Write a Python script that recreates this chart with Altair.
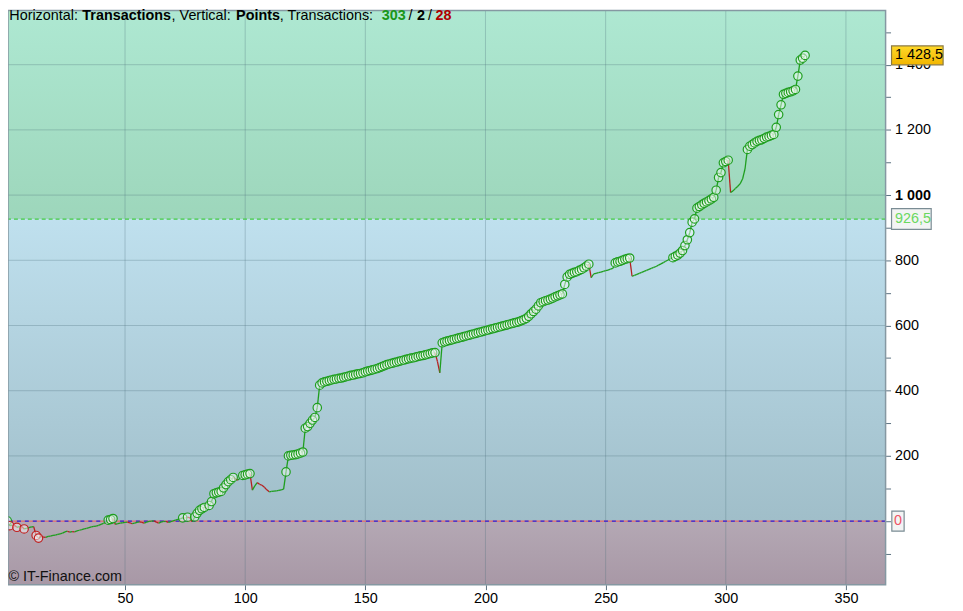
import altair as alt
import pandas as pd

# ---- data ----
equity = [
    1, -14, -12, -13, -19, -17, -16, -24, -22, -20,
    -18, -17, -44, -52, -47, -49, -50, -47, -46, -44,
    -43, -41, -39, -37, -33, -31, -34, -32, -33, -30,
    -28, -26, -24, -22, -20, -18, -16, -15, -13, -10,
    -7, -4, 3, 5, 8, -10, -8, -6, -5, -4,
    -3, -5, -8, -6, -4, -2, -4, -6, -3, -1,
    0, 1, -3, -6, -3, -1, -1, -4, -2, 1,
    3, 5, 7, 10, 9, 12, 10, -2, 13, 24,
    33, 38, 42, 41, 48, 60, 84, 87, 89, 91,
    102, 112, 121, 127, 134, 129, 126, 132, 140, 142,
    144, 146, 95, 108, 118, 113, 110, 104, 96, 90,
    91, 92, 93, 94, 96, 98, 151, 200, 202, 203,
    204, 206, 209, 212, 285, 290, 300, 310, 318, 348,
    417, 424, 427, 429, 431, 433, 435, 436, 438, 439,
    441, 443, 445, 447, 448, 450, 452, 453, 455, 458,
    460, 462, 464, 466, 468, 471, 474, 477, 480, 482,
    484, 486, 488, 490, 492, 494, 496, 498, 500, 501,
    503, 505, 507, 508, 510, 512, 514, 516, 517, 490,
    455, 547, 550, 552, 554, 556, 558, 560, 562, 564,
    566, 568, 570, 572, 574, 576, 578, 580, 582, 584,
    586, 588, 590, 592, 594, 596, 598, 600, 602, 604,
    606, 608, 610, 612, 615, 618, 622, 628, 636, 643,
    650, 660, 670, 673, 676, 678, 681, 684, 688, 691,
    694, 697, 726, 749, 757, 760, 763, 765, 769, 772,
    777, 782, 788, 747, 758, 760, 762, 764, 766, 768,
    770, 773, 775, 792, 795, 797, 800, 803, 805, 807,
    751, 754, 757, 760, 763, 766, 769, 772, 775, 778,
    781, 785, 789, 793, 797, 801, 805, 808, 812, 816,
    822, 830, 845, 863, 885, 917, 927, 960, 965, 970,
    975, 979, 983, 988, 993, 1015, 1054, 1069, 1099, 1103,
    1107, 1008, 1013, 1020, 1027, 1035, 1050, 1080, 1140, 1150,
    1155, 1160, 1165, 1168, 1170, 1174, 1178, 1180, 1183, 1186,
    1208, 1247, 1277, 1309, 1312, 1315, 1317, 1320, 1324, 1365,
    1414, 1420, 1428.5,
]
x_ticks = [50, 100, 150, 200, 250, 300, 350]
y_ticks = [-100, 0, 100, 200, 300, 400, 500, 600, 700, 800, 900,
           1000, 1100, 1200, 1300, 1400, 1500]
y_grid = [200, 400, 600, 800, 1000, 1200, 1400]
level_last = 1428.5
level_ref = 926.5
level_zero = 0
last_label = "1 428,5"
ref_label = "926,5"
zero_label = "0"

# ---- layout ----
W, H = 885, 579
XD = [1.3, 366.5]
YD = [-195, 1566]
U = (YD[1] - YD[0]) / H  # data units per pixel (vertical)
FONT = "Liberation Sans"
FS = 14.5

xs = alt.Scale(domain=XD, nice=False, zero=False)
ys = alt.Scale(domain=YD, nice=False, zero=False)

AX = alt.Axis(
    values=x_ticks, orient="bottom", title=None, grid=False, domain=False,
    tickSize=5, tickColor="#5a7080", labelFontSize=FS, labelFont=FONT,
    labelColor="#000", labelPadding=2, format="d")
AY = alt.Axis(
    values=y_ticks, orient="right", title=None, grid=False, domain=False,
    tickSize=5, tickColor="#5a7080", labelFontSize=FS, labelFont=FONT,
    labelColor="#000", labelPadding=4,
    labelExpr="(datum.value > 0 && datum.value % 200 == 0) ? replace(format(datum.value, ','), ',', ' ') : ''",
    labelFontWeight={"condition": {"test": "datum.value == 1000", "value": "bold"}, "value": "normal"})

df = pd.DataFrame({"n": list(range(1, len(equity) + 1)), "eq": equity})
seg = df.copy()
seg["n2"] = seg["n"].shift(-1)
seg["eq2"] = seg["eq"].shift(-1)
seg = seg.dropna()
seg["dir"] = ["up" if b >= a else "down" for a, b in zip(seg["eq"], seg["eq2"])]

prev_max = df["eq"].cummax().shift(1)
prev_min = df["eq"].cummin().shift(1)
kind = []
for k, v in enumerate(df["eq"]):
    if k == 0 or v > prev_max[k]:
        kind.append("high")
    elif v < prev_min[k] and v < 0:
        kind.append("low")
    else:
        kind.append("none")
df["kind"] = kind
marks = df[df["kind"] != "none"]

def grad(top, bottom):
    return alt.Gradient(gradient="linear",
                        stops=[alt.GradientStop(color=top, offset=0),
                               alt.GradientStop(color=bottom, offset=1)],
                        x1=0, x2=0, y1=0, y2=1)

def band(lo, hi, top, bottom):
    return alt.Chart(pd.DataFrame({"lo": [lo], "hi": [hi]})).mark_rect(
        fill=grad(top, bottom), strokeWidth=0).encode(
        x=alt.value(0), x2=alt.value(W),
        y=alt.Y("lo:Q", scale=ys, axis=AY), y2="hi:Q")

bands = [
    band(YD[0], level_zero, "#b4a8b4", "#a898a6"),
    band(level_zero, level_ref, "#bfe0ee", "#a0bec9"),
    band(level_ref, YD[1], "#aee8d2", "#9dd6bb"),
]

vgrid = alt.Chart(pd.DataFrame({"v": x_ticks})).mark_rule(
    color="#4a6a7a", opacity=0.3, strokeWidth=1).encode(
    x=alt.X("v:Q", scale=xs, axis=AX))
hgrid = alt.Chart(pd.DataFrame({"v": y_grid})).mark_rule(
    color="#4a6a7a", opacity=0.3, strokeWidth=1).encode(
    y=alt.Y("v:Q", scale=ys, axis=AY))

ref_line = alt.Chart(pd.DataFrame({"v": [level_ref]})).mark_rule(
    color="#44cc44", strokeDash=[4, 3], strokeWidth=1.2).encode(
    y=alt.Y("v:Q", scale=ys, axis=AY))
zero_red = alt.Chart(pd.DataFrame({"v": [level_zero]})).mark_rule(
    color="#e86a6a", strokeWidth=1.5).encode(
    y=alt.Y("v:Q", scale=ys, axis=AY))
zero_blue = alt.Chart(pd.DataFrame({"v": [level_zero]})).mark_rule(
    color="#2222e0", strokeDash=[4, 4], strokeWidth=1.5).encode(
    y=alt.Y("v:Q", scale=ys, axis=AY))

lines = alt.Chart(seg).mark_rule(strokeWidth=1.3).encode(
    x=alt.X("n:Q", scale=xs, axis=AX),
    x2="n2:Q",
    y=alt.Y("eq:Q", scale=ys, axis=AY),
    y2="eq2:Q",
    color=alt.Color("dir:N", scale=alt.Scale(domain=["up", "down"], range=["#1e9e1e", "#b52020"]), legend=None),
)

points = alt.Chart(marks).mark_point(
    shape="circle", size=72, filled=True, fill="#ffffff", fillOpacity=0.45, strokeWidth=1.2).encode(
    x=alt.X("n:Q", scale=xs, axis=AX),
    y=alt.Y("eq:Q", scale=ys, axis=AY),
    stroke=alt.Stroke("kind:N", scale=alt.Scale(domain=["high", "low"], range=["#1e9e1e", "#c02020"]), legend=None),
)

def box(level, half_px, x0, x1, fill, stroke):
    return alt.Chart(pd.DataFrame({"lo": [level - half_px * U], "hi": [level + half_px * U]})).mark_rect(
        fill=fill, stroke=stroke, strokeWidth=1.2).encode(
        x=alt.value(x0), x2=alt.value(x1),
        y=alt.Y("lo:Q", scale=ys, axis=AY), y2="hi:Q")

def boxtext(level, label, x, color, align="left"):
    return alt.Chart(pd.DataFrame({"v": [level], "t": [label]})).mark_text(
        font=FONT, fontSize=FS, color=color, align=align, baseline="middle").encode(
        x=alt.value(x), y=alt.Y("v:Q", scale=ys, axis=AY), text="t:N")

annot = [
    box(level_last, 9.5, 891, 943, grad("#ffd829", "#f2b600"), "#8c7a40"),
    boxtext(level_last, last_label, 894.5, "#000"),
    box(level_ref, 10.5, 891, 931, "#f3f4f4", "#7a8c94"),
    boxtext(level_ref, ref_label, 894.5, "#6ad860"),
    box(level_zero, 10, 891.3, 903.7, "#f3f4f4", "#7a8c94"),
    boxtext(level_zero, zero_label, 897.5, "#ee5566", align="center"),
]

pieces = [
    ("Horizontal:", 1.3, "normal", "#000"),
    ("Transactions", 75, "bold", "#000"),
    (", Vertical:", 165, "normal", "#000"),
    ("Points", 230, "bold", "#000"),
    (", Transactions:", 274, "normal", "#000"),
    ("303", 377, "bold", "#1a961a"),
    ("/", 404, "normal", "#000"),
    ("2", 412.5, "bold", "#000"),
    ("/", 423.5, "normal", "#000"),
    ("28", 431, "bold", "#b00000"),
]
title_layers = []
for txt, px, wt, col in pieces:
    title_layers.append(
        alt.Chart(pd.DataFrame({"t": [txt]})).mark_text(
            font=FONT, fontSize=FS, fontWeight=wt, color=col, align="left", baseline="middle").encode(
            x=alt.value(px), y=alt.value(6), text="t:N"))

copyright_txt = alt.Chart(pd.DataFrame({"t": ["© IT-Finance.com"]})).mark_text(
    font=FONT, fontSize=FS, color="#111", align="left", baseline="middle").encode(
    x=alt.value(0.5), y=alt.value(571), text="t:N")

border = alt.Chart(pd.DataFrame({"a": [0]})).mark_rect(
    fillOpacity=0, stroke="#8598a2", strokeWidth=1.5).encode(
    x=alt.value(0), x2=alt.value(W), y=alt.value(0), y2=alt.value(H))

chart = alt.layer(
    *bands, vgrid, hgrid, ref_line, zero_red, zero_blue, lines, points,
    border, *annot, *title_layers, copyright_txt,
).properties(
    width=W, height=H,
    autosize=alt.AutoSizeParams(type="none"),
    padding={"left": 0, "top": 0, "right": 70, "bottom": 30},
    background="#ffffff",
).configure_view(stroke=None)

chart.save("out.html", embed_options={"renderer": "svg", "actions": False})
